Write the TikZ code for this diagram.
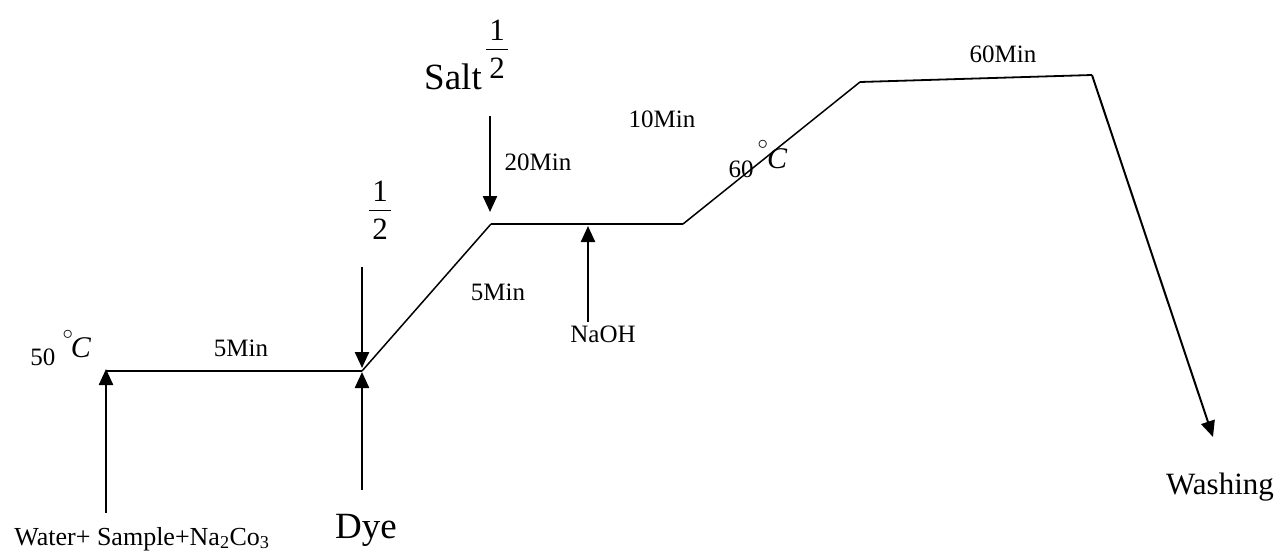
\documentclass[tikz,border=0pt]{standalone}
\usepackage{fontspec}
\setmainfont{Liberation Serif}
\usetikzlibrary{arrows.meta}
\newcommand{\fs}[1]{\fontsize{#1}{#1}\selectfont}
\newcommand{\halfx}{{\setlength{\tabcolsep}{3pt}\renewcommand{\arraystretch}{1.05}\begin{tabular}{c}1\\[-1pt]\hline\rule{0pt}{29pt}2\end{tabular}}}
\begin{document}
\begin{tikzpicture}[x=1pt,y=-1pt,
  lbl/.style={inner sep=0pt,outer sep=0pt,anchor=base,font=\fs{25}},
  big/.style={lbl,font=\fs{37}},
  frac/.style={inner sep=0pt,font=\fs{31}},
  degs/.style={inner sep=0pt,outer sep=0pt,font=\fs{30}},
  proc/.style={line width=1.8pt},
  feed/.style={line width=2.4pt,-{Triangle[width=14pt,length=16pt]}}]
\useasboundingbox (0,0) rectangle (1278,551);
% process curve
\coordinate (A) at (106,371);
\coordinate (B) at (362,371);
\coordinate (C) at (491,224);
\coordinate (D) at (683,224);
\coordinate (E) at (860,82);
\coordinate (F) at (1092,75);
\coordinate (G) at (1213,437);
\draw[proc] (A) -- (B);
\draw[proc,line width=1.5pt] (B) -- (C);
\draw[proc] (C) -- (D);
\draw[proc,line width=1.5pt] (D) -- (E);
\draw[proc] (E) -- (F);
\draw[feed,line width=2pt] (F) -- (G);
% feed arrows
\coordinate (w0) at (106,513);
\coordinate (w1) at (106,369);
\coordinate (d0) at (362,490);
\coordinate (d1) at (362,372);
\coordinate (h0) at (362,267);
\coordinate (h1) at (362,368);
\coordinate (s0) at (490,116);
\coordinate (s1) at (490,212);
\coordinate (n0) at (588,322);
\coordinate (n1) at (588,226);
\draw[feed] (w0) -- (w1);
\draw[feed] (d0) -- (d1);
\draw[feed] (h0) -- (h1);
\draw[feed] (s0) -- (s1);
\draw[feed] (n0) -- (n1);
% labels
\node[lbl] (t50) at (43,365) {50};
\node[degs] (deg50) at (68,339) {$^{\circ}$};
\node[lbl,font=\fs{30}\itshape] (c50) at (81,357) {C};
\node[lbl] (m5a) at (241,356) {5Min};
\node[lbl,font=\fs{26}] (water) at (142,545) {Water+ Sample+Na\textsubscript{2}Co\textsubscript{3}};
\node[big] (dye) at (366,538) {Dye};
\node[frac] (hf1) at (380,214) {\halfx};
\node[big] (salt) at (453,90) {Salt};
\node[frac] (hf2) at (497,53) {\halfx};
\node[lbl] (m20) at (538,170) {20Min};
\node[lbl] (m10) at (662,128) {10Min};
\node[lbl] (m5b) at (498,300) {5Min};
\node[lbl] (naoh) at (603,342) {NaOH};
\node[lbl] (t60) at (741,177) {60};
\node[degs] (deg60) at (763,149) {$^{\circ}$};
\node[lbl,font=\fs{30}\itshape] (c60) at (777,168) {C};
\node[lbl] (m60) at (1003,63) {60Min};
\node[lbl,font=\fs{31}] (wash) at (1220,494) {Washing};
\end{tikzpicture}
\end{document}
